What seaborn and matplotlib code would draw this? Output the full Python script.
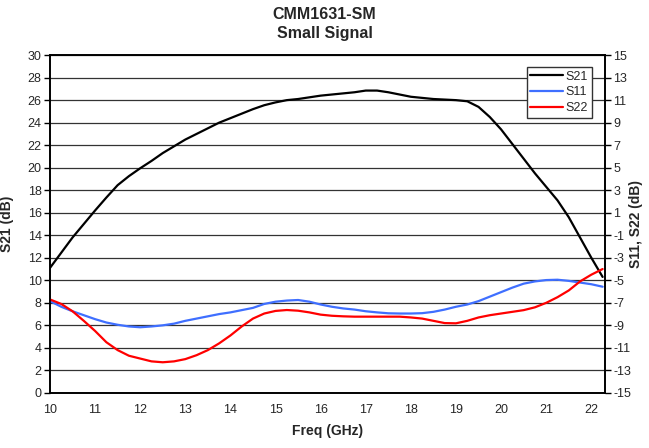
import pandas as pd
import seaborn as sns
import matplotlib.pyplot as plt

freq = [10.0, 10.25, 10.5, 10.75, 11.0, 11.25, 11.5, 11.75, 12.0, 12.25,
        12.5, 12.75, 13.0, 13.25, 13.5, 13.75, 14.0, 14.25, 14.5, 14.75,
        15.0, 15.25, 15.5, 15.75, 16.0, 16.25, 16.5, 16.75, 17.0, 17.25,
        17.5, 17.75, 18.0, 18.25, 18.5, 18.75, 19.0, 19.25, 19.5, 19.75,
        20.0, 20.25, 20.5, 20.75, 21.0, 21.25, 21.5, 21.75, 22.0, 22.25]
s21 = [11.1, 12.45, 13.8, 15.0, 16.2, 17.35, 18.45, 19.25, 19.95, 20.6,
       21.3, 21.9, 22.5, 23.0, 23.5, 24.0, 24.4, 24.8, 25.2, 25.55,
       25.8, 26.0, 26.1, 26.25, 26.4, 26.5, 26.6, 26.7, 26.85, 26.85,
       26.7, 26.5, 26.3, 26.2, 26.1, 26.05, 26.0, 25.9, 25.4, 24.5,
       23.4, 22.1, 20.8, 19.5, 18.3, 17.1, 15.6, 13.8, 12.0, 10.3]
s11 = [-6.85, -7.35, -7.75, -8.1, -8.45, -8.75, -8.95, -9.1, -9.17, -9.1,
       -9.0, -8.85, -8.6, -8.4, -8.2, -8.0, -7.85, -7.65, -7.45, -7.1,
       -6.9, -6.8, -6.75, -6.9, -7.15, -7.35, -7.5, -7.6, -7.75, -7.85,
       -7.93, -7.95, -7.95, -7.92, -7.8, -7.6, -7.35, -7.15, -6.85, -6.45,
       -6.05, -5.65, -5.3, -5.1, -4.98, -4.95, -5.05, -5.2, -5.35, -5.57]
s22 = [-6.7, -7.1, -7.75, -8.6, -9.5, -10.5, -11.2, -11.7, -11.95, -12.2,
       -12.28, -12.2, -12.0, -11.65, -11.2, -10.6, -9.9, -9.1, -8.4, -7.95,
       -7.72, -7.64, -7.7, -7.85, -8.05, -8.15, -8.2, -8.23, -8.23, -8.23,
       -8.23, -8.23, -8.3, -8.4, -8.6, -8.8, -8.82, -8.6, -8.3, -8.1,
       -7.95, -7.8, -7.65, -7.4, -7.0, -6.5, -5.9, -5.1, -4.5, -4.0]
x_ticks = [10, 11, 12, 13, 14, 15, 16, 17, 18, 19, 20, 21, 22]
left_ticks = [0, 2, 4, 6, 8, 10, 12, 14, 16, 18, 20, 22, 24, 26, 28, 30]
right_ticks = [-15, -13, -11, -9, -7, -5, -3, -1, 1, 3, 5, 7, 9, 11, 13, 15]

sns.set_style("white")
plt.rcParams['font.family'] = ['Liberation Sans Narrow', 'Liberation Sans', 'DejaVu Sans']
plt.rcParams['axes.unicode_minus'] = False

df = pd.DataFrame({"freq": freq, "S21": s21, "S11": s11, "S22": s22})

fig = plt.figure(figsize=(6.49, 4.48), dpi=100)
ax1 = fig.add_axes([0.077, 0.123, 0.855, 0.754])
ax2 = ax1.twinx()

sns.lineplot(data=df, x="freq", y="S21", ax=ax1, color="black", lw=1.6, label="S21", legend=False)
sns.lineplot(data=df, x="freq", y="S11", ax=ax2, color="#3f6fff", lw=1.6, label="S11", legend=False)
sns.lineplot(data=df, x="freq", y="S22", ax=ax2, color="#ff0000", lw=1.6, label="S22", legend=False)

ax1.set_xlim(10, 22.3)
ax1.set_ylim(0, 30)
ax2.set_ylim(-15, 15)
ax1.set_xticks(x_ticks)
ax1.set_yticks(left_ticks)
ax2.set_yticks(right_ticks)
ax1.tick_params(axis="x", length=0, labelsize=9, pad=8)
ax1.tick_params(axis="y", direction="out", length=4, width=1, color="black", labelsize=9, pad=2)
ax2.tick_params(axis="y", direction="out", length=4, width=1, color="black", labelsize=9, pad=2)

ax1.yaxis.grid(True, color="#333333", lw=0.9)
ax1.xaxis.grid(False)
ax2.grid(False)
for ax in (ax1, ax2):
    for sp in ax.spines.values():
        sp.set_color("black")
        sp.set_linewidth(1.2)

ax1.set_xlabel("Freq (GHz)", fontsize=10, fontweight="bold", labelpad=6)
ax1.set_ylabel("S21 (dB)", fontsize=10, fontweight="bold")
ax2.set_ylabel("S11, S22 (dB)", fontsize=10, fontweight="bold", rotation=90)
ax1.yaxis.set_label_coords(-0.065, 0.5)
ax2.yaxis.set_label_coords(1.043, 0.5)
fig.suptitle("CMM1631-SM\nSmall Signal", fontsize=11.5, fontweight="bold", y=0.985, linespacing=1.35)

h1, l1 = ax1.get_legend_handles_labels()
h2, l2 = ax2.get_legend_handles_labels()
leg = ax2.legend(h1 + h2, l1 + l2, loc="upper right", bbox_to_anchor=(0.976, 0.965),
                 fontsize=9, frameon=True, fancybox=False, framealpha=1,
                 edgecolor="#333333", handlelength=2.6, handletextpad=0.2,
                 borderpad=0.3, labelspacing=0.3, borderaxespad=0)
leg.get_frame().set_linewidth(1.0)

fig.savefig("out.png", dpi=100)
